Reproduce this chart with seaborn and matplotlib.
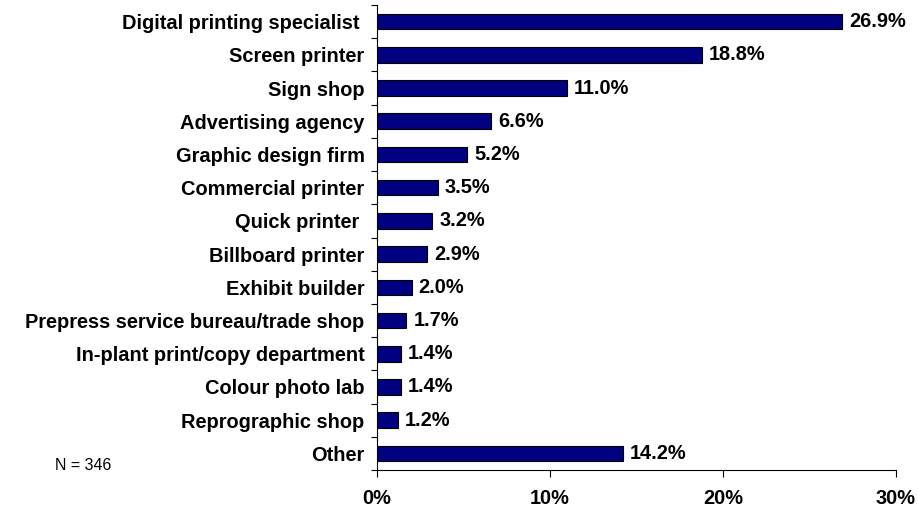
import matplotlib
matplotlib.use("Agg")
import matplotlib.pyplot as plt
import seaborn as sns
import pandas as pd
import numpy as np
from matplotlib.ticker import FixedLocator, FuncFormatter

categories = [
    "Digital printing specialist ", "Screen printer", "Sign shop",
    "Advertising agency", "Graphic design firm", "Commercial printer",
    "Quick printer ", "Billboard printer", "Exhibit builder",
    "Prepress service bureau/trade shop", "In-plant print/copy department",
    "Colour photo lab", "Reprographic shop", "Other",
]
values = [26.9, 18.8, 11.0, 6.6, 5.2, 3.5, 3.2, 2.9, 2.0, 1.7, 1.4, 1.4, 1.2, 14.2]
x_ticks = [0, 10, 20, 30]
sample_note = "N = 346"

sns.set_theme(style="white")
plt.rcParams["font.family"] = ["Liberation Sans", "DejaVu Sans"]
plt.rcParams.update({"text.color": "black", "xtick.color": "black",
                     "ytick.color": "black", "axes.labelcolor": "black"})

df = pd.DataFrame({"category": categories, "value": values})

fig = plt.figure(figsize=(9.18, 5.12), dpi=100)
ax = fig.add_axes([377 / 918, 1 - 470 / 512, (896 - 377) / 918, (470 - 5) / 512])

sns.barplot(data=df, x="value", y="category", orient="h", ax=ax,
            color="#000080", saturation=1, width=0.47,
            edgecolor="black", linewidth=0.8)

ax.set_xlim(0, 30)
ax.set_ylim(len(categories) - 0.5, -0.5)
ax.set_xlabel("")
ax.set_ylabel("")

for spine in ["top", "right"]:
    ax.spines[spine].set_visible(False)
for spine in ["left", "bottom"]:
    ax.spines[spine].set_color("black")
    ax.spines[spine].set_linewidth(0.8)

ax.xaxis.set_major_locator(FixedLocator(x_ticks))
ax.xaxis.set_major_formatter(FuncFormatter(lambda v, p: f"{v:.0f}%"))
ax.tick_params(axis="x", which="major", direction="out", length=5, width=0.8,
               color="black", bottom=True, pad=9, labelsize=14.4)
for lbl in ax.get_xticklabels():
    lbl.set_fontweight("bold")

# category separators on the left axis
ax.yaxis.set_minor_locator(FixedLocator(np.arange(-0.5, len(categories), 1.0)))
ax.tick_params(axis="y", which="minor", direction="out", length=4.5, width=0.8,
               color="black", left=True)
ax.tick_params(axis="y", which="major", length=0, pad=9, labelsize=14.4)
for lbl in ax.get_yticklabels():
    lbl.set_fontweight("bold")

for i, v in enumerate(values):
    ax.annotate(f"{v:.1f}%", xy=(v, i), xytext=(5, 0), textcoords="offset points",
                va="center", ha="left", fontsize=14.4, fontweight="bold",
                color="black")

fig.text(55 / 918, 1 - 465 / 512, sample_note, fontsize=11.5, va="center",
         ha="left", color="black")

fig.savefig("out.png", dpi=100)
